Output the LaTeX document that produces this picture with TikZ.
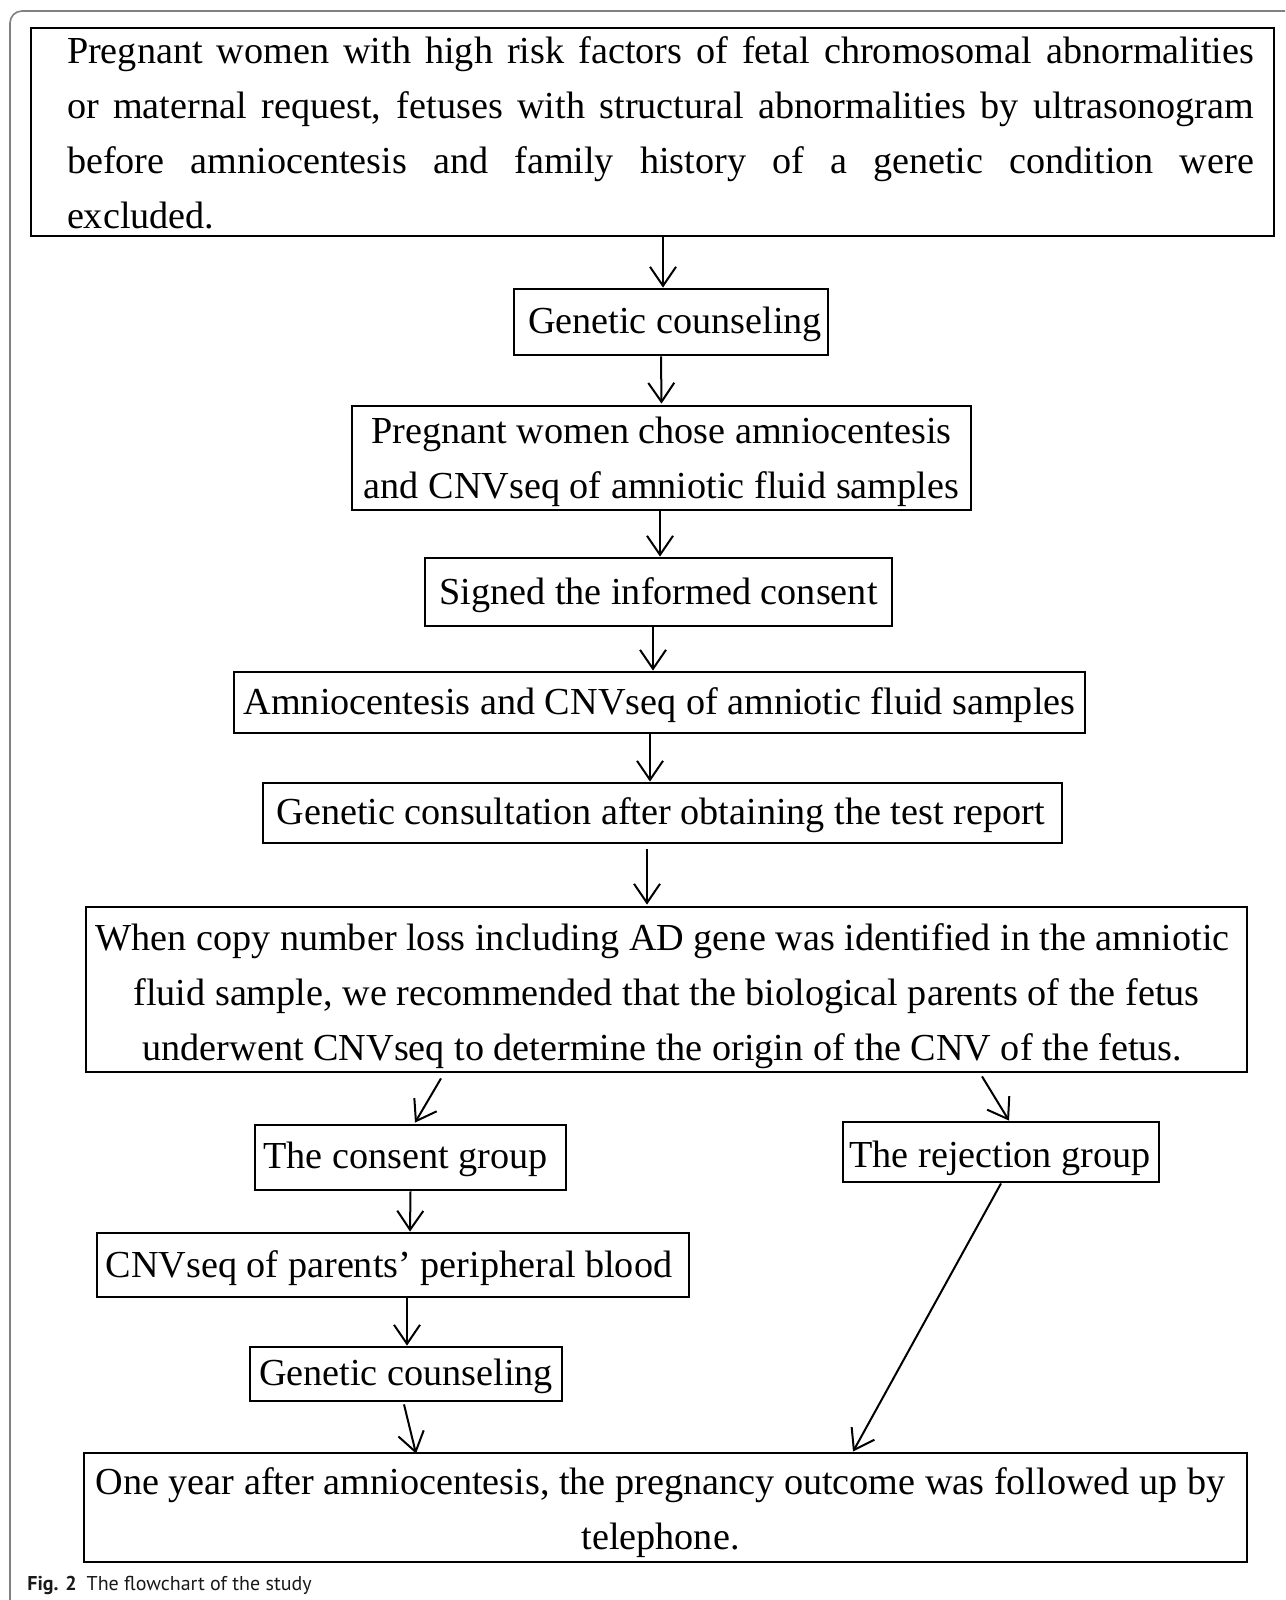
\documentclass[tikz,border=0pt]{standalone}
\usepackage{fontspec}
\setmainfont{Liberation Serif}
\newfontfamily\capfont{PT Sans}
\usetikzlibrary{arrows.meta,calc}
\newcommand\MyLift[1]{\rule{0pt}{#1}}
\begin{document}
\begin{tikzpicture}[x=0.5pt,y=-0.5pt,
  box/.style={draw, line width=1.4pt, inner sep=0pt, align=center,
    font=\fontsize{19.1}{27.5}\selectfont},
  arr/.style={line width=1pt, -{Straight Barb[length=9.5pt,width=13pt,line width=1pt]}},
  frame/.style={draw=black!50, line width=0.8pt, rounded corners=6pt}]
\path[use as bounding box] (0,0) rectangle (1285,1600);
\clip (0,0) rectangle (1285,1600);
\draw[frame] (10,1640) -- (10,11) -- (1320,11);

\node[box, align=left, minimum width=621.5pt, minimum height=104pt] (b1) at (652.5,132)
 {\hspace*{8pt}\makebox[593.5pt][s]{\MyLift{14pt}Pregnant women with high risk factors of fetal chromosomal abnormalities}\\
  \hspace*{8pt}\makebox[593.5pt][s]{or maternal request, fetuses with structural abnormalities by ultrasonogram}\\
  \hspace*{8pt}\makebox[593.5pt][s]{before amniocentesis and family history of a genetic condition were}\\
  \hspace*{8pt}\makebox[593.5pt][l]{excluded.}};
\node[box, minimum width=157pt, minimum height=33pt] (b2) at (671,322) {\hspace*{4pt}\MyLift{16.1pt}Genetic counseling};
\node[box, minimum width=309.5pt, minimum height=52pt] (b3) at (661.5,458)
 {\MyLift{17.1pt}Pregnant women chose amniocentesis\\and CNVseq of amniotic fluid samples};
\node[box, minimum width=233.5pt, minimum height=34pt] (b4) at (658.5,592) {\MyLift{17.1pt}Signed the informed consent};
\node[box, minimum width=425.5pt, minimum height=30.5pt] (b5) at (659.5,702.5) {\MyLift{16.1pt}Amniocentesis and CNVseq of amniotic fluid samples};
\node[box, minimum width=399.5pt, minimum height=30pt] (b6) at (662.5,813) {\MyLift{15.5pt}Genetic consultation after obtaining the test report\hspace*{2pt}};
\node[box, minimum width=580.5pt, minimum height=82.5pt] (b7) at (666.5,989.5)
 {\MyLift{20.1pt}When copy number loss including AD gene was identified in the amniotic\hspace*{4pt}\\
  fluid sample, we recommended that the biological parents of the fetus\hspace*{4pt}\\
  underwent CNVseq to determine the origin of the CNV of the fetus.\hspace*{4pt}};
\node[box, minimum width=155.5pt, minimum height=32.5pt] (b8) at (410.5,1157.5) {\MyLift{15.5pt}The consent group\hspace*{5pt}};
\node[box, minimum width=158pt, minimum height=30pt] (b9) at (1001,1152) {\MyLift{20.1pt}The rejection group\hspace*{1pt}};
\node[box, minimum width=296pt, minimum height=32pt] (b10) at (393,1265) {\MyLift{16.1pt}CNVseq of parents’ peripheral blood\hspace*{4pt}};
\node[box, minimum width=156pt, minimum height=27pt] (b11) at (406,1374) {\MyLift{16.1pt}Genetic counseling};
\node[box, minimum width=581.5pt, minimum height=54.5pt] (b12) at (665.5,1507.5)
 {\MyLift{18.1pt}One year after amniocentesis, the pregnancy outcome was followed up by\hspace*{5pt}\\telephone.\hspace*{5pt}};

\draw[arr] ([shift={(10.5,0)}]b1.south) -- ([shift={(-8,0)}]b2.north);
\draw[arr] ([shift={(-10,0)}]b2.south) -- ([shift={(0,-1)}]b3.north);
\draw[arr] ([shift={(-1.5,0)}]b3.south) -- ([shift={(1.5,0)}]b4.north);
\draw[arr] ([shift={(-5.5,0)}]b4.south) -- ([shift={(-6.5,0)}]b5.north);
\draw[arr] ([shift={(-9.5,0)}]b5.south) -- ([shift={(-12.5,0)}]b6.north);
\draw[arr] ([shift={(-15.5,5)}]b6.south) -- ([shift={(-19.5,-1)}]b7.north);
\draw[arr] ([shift={(-225.5,5)}]b7.south) -- ([shift={(4.5,-1)}]b8.north);
\draw[arr] ([shift={(315.5,3)}]b7.south) -- ([shift={(8,0)}]b9.north);
\draw[arr] ([shift={(0,0)}]b8.south) -- ([shift={(17,0)}]b10.north);
\draw[arr] ([shift={(14,0)}]b10.south) -- ([shift={(1,0)}]b11.north);
\draw[arr] ([shift={(-2,2)}]b11.south) -- ([shift={(-249.5,2)}]b12.north);
\draw[arr] (b9.south) -- ([shift={(187.5,0)}]b12.north);

\node[anchor=base west, inner sep=0pt, font=\capfont\fontsize{10}{12}\selectfont, text=black!90] (cap) at (27,1590)
 {\textbf{Fig. 2}\hspace{0.5em}The flowchart of the study};
\end{tikzpicture}
\end{document}
